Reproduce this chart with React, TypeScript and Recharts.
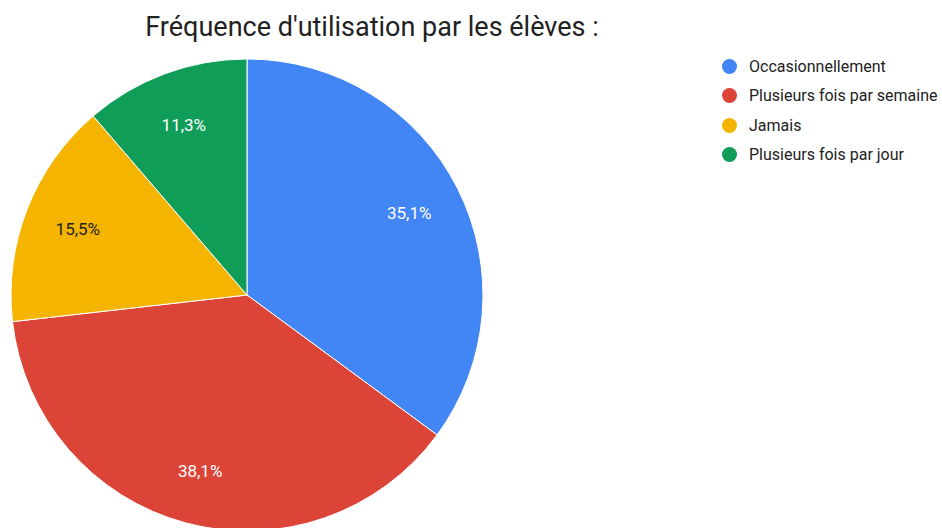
import * as React from "react";
import { PieChart, Pie, Cell } from "recharts";

const categories = ["Occasionnellement", "Plusieurs fois par semaine", "Jamais", "Plusieurs fois par jour"];
const values = [35.1, 38.1, 15.5, 11.3];
const labels = ["35,1%", "38,1%", "15,5%", "11,3%"];
const colors = ["#4285F4", "#DB4437", "#F4B400", "#0F9D58"];
const labelColors = ["#ffffff", "#ffffff", "#222222", "#ffffff"];

const data = categories.map((name, i) => ({ name, value: values[i] }));

const RAD = Math.PI / 180;

function renderLabel(props: any) {
  const { cx, cy, midAngle, outerRadius, index } = props;
  const r = outerRadius * 0.77;
  const x = cx + r * Math.cos(-midAngle * RAD);
  const y = cy + r * Math.sin(-midAngle * RAD);
  return (
    <text
      x={x}
      y={y}
      fill={labelColors[index]}
      textAnchor="middle"
      dominantBaseline="central"
      fontSize={17}
      fontFamily="Roboto, sans-serif"
    >
      {labels[index]}
    </text>
  );
}

export default function App() {
  return (
    <div style={{ position: "fixed", left: 0, top: 0, width: 942, height: 528, background: "#fff", overflow: "hidden", fontFamily: "Roboto, sans-serif" }}>
      <div style={{ position: "absolute", left: 0, width: 744, top: 10, textAlign: "center", fontSize: 27, lineHeight: "34px", color: "#222" }}>
        Fréquence d'utilisation par les élèves :
      </div>
      <PieChart width={942} height={528} margin={{ top: 0, right: 0, bottom: 0, left: 0 }}>
        <Pie
          data={data}
          dataKey="value"
          nameKey="name"
          cx={247}
          cy={295}
          outerRadius={236}
          startAngle={90}
          endAngle={-270}
          stroke="#ffffff"
          strokeWidth={1}
          label={renderLabel}
          labelLine={false}
          isAnimationActive={false}
        >
          {data.map((d, i) => (
            <Cell key={d.name} fill={colors[i]} />
          ))}
        </Pie>
      </PieChart>
      <div style={{ position: "absolute", left: 722, top: 52 }}>
        {categories.map((c, i) => (
          <div key={c} style={{ display: "flex", alignItems: "center", height: 29.3 }}>
            <span style={{ width: 15, height: 15, borderRadius: "50%", background: colors[i], marginRight: 12 }} />
            <span style={{ fontSize: 16, color: "#222" }}>{c}</span>
          </div>
        ))}
      </div>
    </div>
  );
}
